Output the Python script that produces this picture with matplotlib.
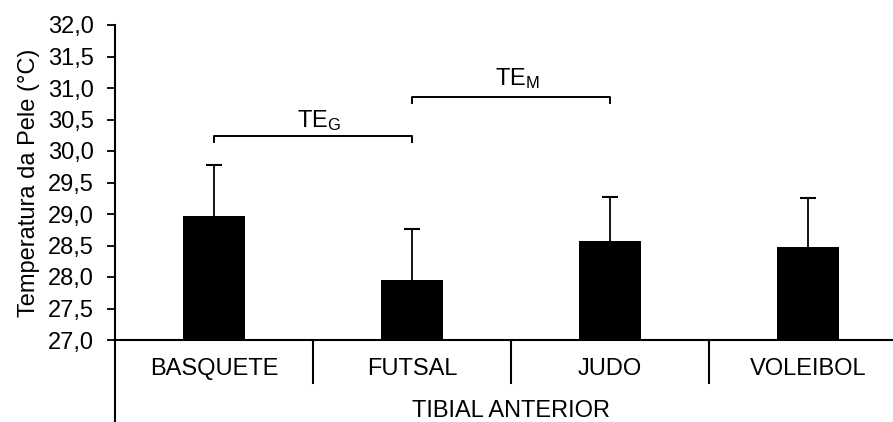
import matplotlib
matplotlib.use("Agg")
import matplotlib.pyplot as plt
from matplotlib.ticker import FuncFormatter

plt.rcParams['font.family'] = ['Liberation Sans', 'DejaVu Sans']
plt.rcParams['mathtext.fontset'] = 'custom'
plt.rcParams['mathtext.rm'] = 'Liberation Sans'
plt.rcParams['mathtext.it'] = 'Liberation Sans:italic'

categories = ["BASQUETE", "FUTSAL", "JUDO", "VOLEIBOL"]
group_label = "TIBIAL ANTERIOR"
means = [28.97, 27.95, 28.57, 28.47]
sds = [0.81, 0.81, 0.70, 0.79]
y_ticks = [27.0, 27.5, 28.0, 28.5, 29.0, 29.5, 30.0, 30.5, 31.0, 31.5, 32.0]
brackets = [(0, 1, 30.24, r"$\mathrm{TE}_\mathrm{G}$", 30.38),
            (1, 2, 30.86, r"$\mathrm{TE}_\mathrm{M}$", 31.05)]

FS = 17
W, H = 893, 422
fig = plt.figure(figsize=(W / 100, H / 100), dpi=100)
left, right, top, bottom = 115, 907, 25, 340
ax = fig.add_axes([left / W, (H - bottom) / H, (right - left) / W, (bottom - top) / H])

x = list(range(len(categories)))
ax.bar(x, [m - 27.0 for m in means], bottom=27.0, width=0.31, color="black", zorder=3)
eb = ax.errorbar(x, means, yerr=[[0] * len(sds), sds], fmt="none", ecolor="black",
                 elinewidth=1.3, capsize=5.5, capthick=1.5, zorder=2)
eb[1][0].set_visible(False)  # no cap on the zero-length lower side

ax.set_xlim(-0.5, len(categories) - 0.5)
ax.set_ylim(27.0, 32.0)
ax.set_yticks(y_ticks)
ax.yaxis.set_major_formatter(FuncFormatter(lambda v, p: f"{v:.1f}".replace(".", ",")))
ax.tick_params(axis="y", direction="out", length=6, width=1.3, labelsize=FS, pad=9)
ax.set_xticks([])
for s in ("top", "right"):
    ax.spines[s].set_visible(False)
for s in ("left", "bottom"):
    ax.spines[s].set_linewidth(1.5)

ax.set_ylabel("Temperatura da Pele (°C)", fontsize=FS, labelpad=6)

# category separators and outer border of the grouped axis
trans = ax.get_xaxis_transform()
px = 1.0 / (bottom - top)
for xs in [i + 0.5 for i in range(len(categories) - 1)]:
    ax.plot([xs, xs], [0, -43 * px], transform=trans, color="black", lw=1.5, clip_on=False)
ax.plot([-0.5, -0.5], [0, -100 * px], transform=trans, color="black", lw=1.5, clip_on=False)

for i, c in enumerate(categories):
    ax.text(i, -29 * px, c, transform=trans, ha="center", va="center", fontsize=FS)
ax.text((len(categories) - 1) / 2, -71 * px, group_label, transform=trans,
        ha="center", va="center", fontsize=FS)

# comparison brackets
for x0, x1, yb, lab, ylab in brackets:
    ax.plot([x0, x0, x1, x1], [yb - 0.095, yb, yb, yb - 0.095], color="black", lw=1.4, clip_on=False)
    ax.text((x0 + x1) / 2 + 0.03, ylab, lab, ha="center", va="baseline", fontsize=FS)

fig.savefig("out.png", dpi=100)
